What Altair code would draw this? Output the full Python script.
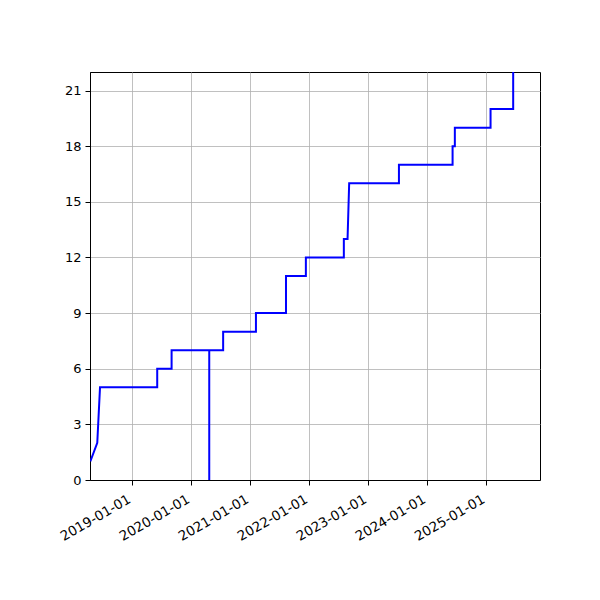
import altair as alt
import pandas as pd

dates = [
    "2018-04-20", "2018-06-02", "2018-06-19",
    "2019-06-08", "2019-06-08",
    "2019-09-05", "2019-09-05",
    "2020-04-25", "2020-04-25", "2020-04-25",
    "2020-07-20", "2020-07-20",
    "2021-02-08", "2021-02-08",
    "2021-08-13", "2021-08-13",
    "2021-12-14", "2021-12-14",
    "2022-08-06", "2022-08-06",
    "2022-08-29", "2022-09-08",
    "2023-07-13", "2023-07-13",
    "2024-06-09", "2024-06-09",
    "2024-06-23", "2024-06-23",
    "2025-01-30", "2025-01-30",
    "2025-06-19", "2025-06-19",
]
counts = [
    1, 2, 5,
    5, 6,
    6, 7,
    7, 0, 7,
    7, 8,
    8, 9,
    9, 11,
    11, 12,
    12, 13,
    13, 16,
    16, 17,
    17, 18,
    18, 19,
    19, 20,
    20, 22,
]
tick_years = [2019, 2020, 2021, 2022, 2023, 2024, 2025]
y_ticks = [0, 3, 6, 9, 12, 15, 18, 21]

df = pd.DataFrame({"date": dates, "count": counts, "i": list(range(len(dates)))})

x_values = [alt.DateTime(year=y, month=1, date=1, utc=True) for y in tick_years]

chart = alt.Chart(df).mark_line(color="#0000ff", strokeWidth=2, clip=True).encode(
    x=alt.X(
        "date:T",
        scale=alt.Scale(
            type="utc",
            domain=[
                alt.DateTime(year=2018, month=4, date=18, utc=True),
                alt.DateTime(year=2025, month=12, date=2, utc=True),
            ],
            nice=False,
        ),
        axis=alt.Axis(
            values=x_values,
            labelExpr="utcFormat(datum.value, '%Y-%m-%d')",
            labelAngle=-30,
            labelAlign="right",
            labelBaseline="top",
            labelPadding=7,
            labelOffset=-6,
            labelFontSize=13.5,
            labelOverlap=False,
            labelBound=False,
            labelFlush=False,
            title=None,
        ),
    ),
    y=alt.Y(
        "count:Q",
        scale=alt.Scale(domain=[0, 22], nice=False, zero=True),
        axis=alt.Axis(values=y_ticks, title=None, labelOverlap=False),
    ),
    order="i:Q",
).properties(
    width=450,
    height=408,
    background="white",
    autosize=alt.AutoSizeParams(type="none"),
    padding={"left": 82, "top": 64, "right": 52, "bottom": 112},
).configure_view(
    stroke="black", strokeWidth=1
).configure_axis(
    grid=True,
    gridColor="#b0b0b0",
    gridWidth=0.8,
    domainColor="black",
    domainWidth=1,
    tickColor="black",
    tickSize=5,
    tickWidth=1,
    labelFont="DejaVu Sans",
    labelFontSize=13,
    labelColor="black",
    labelPadding=4,
)

chart.save("out.html", embed_options={"renderer": "svg", "actions": False})
